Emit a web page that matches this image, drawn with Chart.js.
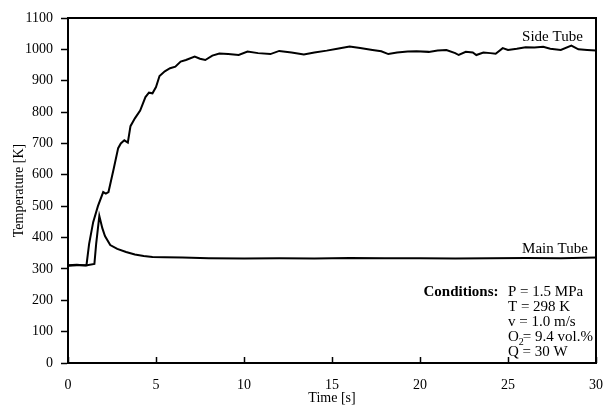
<!DOCTYPE html>
<html>
<head>
<meta charset="utf-8">
<script src="https://cdn.jsdelivr.net/npm/chart.js@4.4.0/dist/chart.umd.min.js"></script>
<style>
  html, body { margin: 0; padding: 0; background: #fff; }
  #wrap { width: 603px; height: 409px; }
</style>
</head>
<body>
<div id="wrap"><canvas id="tempChart" width="603" height="409"></canvas></div>
<script>
// data
const sideTime = [0, 0.5, 1.05, 1.2, 1.43, 1.7, 2.0, 2.15, 2.3, 2.6, 2.85, 3.0, 3.2, 3.4, 3.55, 3.8, 4.1, 4.4, 4.6, 4.8, 5.0, 5.2, 5.5, 5.8, 6.1, 6.4, 6.7, 7.2, 7.5, 7.8, 8.2, 8.6, 9.1, 9.7, 10.2, 10.8, 11.5, 12, 12.7, 13.4, 14, 14.7, 15.3, 16, 16.6, 17.3, 17.8, 18.2, 18.7, 19.3, 19.8, 20.5, 21, 21.5, 22, 22.2, 22.6, 23, 23.2, 23.6, 24, 24.3, 24.7, 25, 25.5, 26, 26.5, 27, 27.4, 28, 28.6, 29, 29.5, 30];
const sideTemp = [310, 312, 312, 380, 449, 500, 545, 540, 545, 620, 685, 700, 710, 703, 755, 780, 805, 848, 862, 860, 880, 915, 930, 940, 945, 961, 966, 977, 970, 966, 980, 987, 985, 982, 993, 988, 985, 995, 990, 984, 990, 996, 1002, 1009, 1004, 998, 994, 985, 990, 993, 994, 992, 996, 998, 988, 982, 992, 990, 982, 990, 988, 986, 1004, 998, 1002, 1007, 1006, 1008, 1002, 998, 1012, 1000, 998, 996];

const mainTime = [0, 0.5, 1.0, 1.5, 1.6, 1.78, 1.95, 2.1, 2.4, 2.8, 3.3, 3.8, 4.3, 4.8, 5.5, 6.5, 8, 10, 12, 14, 16, 18, 20, 22, 24, 26, 28, 30];
const mainTemp = [312, 313, 311, 316, 380, 469, 430, 405, 376, 364, 354, 346, 341, 338, 337, 336, 334, 333, 334, 333, 335, 334, 334, 333, 334, 335, 334, 336];

const xTicks = [0, 5, 10, 15, 20, 25, 30];
const conditionLines = ['P = 1.5 MPa', 'T = 298 K', 'v = 1.0 m/s', 'O2= 9.4 vol.%', 'Q = 30 W'];

const serif = '"Liberation Serif", "Times New Roman", serif';

function toPoints(xs, ys) {
    return xs.map((x, i) => ({ x: x, y: ys[i] }));
}

// frame, inward x ticks and text labels
const framePlugin = {
    id: 'frame',
    afterDraw(chart) {
        const c = chart.ctx;
        const a = chart.chartArea;
        const xs = chart.scales.x;
        const ys = chart.scales.y;
        c.save();
        c.strokeStyle = '#000';
        c.lineWidth = 2;
        c.strokeRect(a.left, a.top, a.right - a.left, a.bottom - a.top);

        // x ticks point up into the plot
        c.lineWidth = 1.5;
        xTicks.forEach(t => {
            const px = Math.round(xs.getPixelForValue(t)) + 0.5;
            c.beginPath();
            c.moveTo(px, a.bottom);
            c.lineTo(px, a.bottom - 6);
            c.stroke();
        });

        c.fillStyle = '#000';
        c.textBaseline = 'middle';
        c.font = '15px ' + serif;
        c.fillText('Side Tube', xs.getPixelForValue(25.8), ys.getPixelForValue(1039));
        c.fillText('Main Tube', xs.getPixelForValue(25.8), ys.getPixelForValue(362));

        c.font = 'bold 15px ' + serif;
        c.fillText('Conditions:', xs.getPixelForValue(20.2), ys.getPixelForValue(226));

        const lx = xs.getPixelForValue(25.0);
        conditionLines.forEach((line, i) => {
            const py = ys.getPixelForValue(226) + i * 15;
            c.font = '15px ' + serif;
            if (line.startsWith('O2')) {
                c.fillText('O', lx, py);
                const w = c.measureText('O').width;
                c.font = '10px ' + serif;
                c.fillText('2', lx + w, py + 5);
                c.font = '15px ' + serif;
                c.fillText(line.slice(2), lx + w + 4, py);
            } else {
                c.fillText(line, lx, py);
            }
        });
        c.restore();
    }
};

const ctx = document.getElementById('tempChart').getContext('2d');
const tempChart = new Chart(ctx, {
    type: 'line',
    data: {
        datasets: [
            {
                label: 'Side Tube',
                data: toPoints(sideTime, sideTemp),
                borderColor: '#000',
                borderWidth: 2,
                pointRadius: 0,
                tension: 0
            },
            {
                label: 'Main Tube',
                data: toPoints(mainTime, mainTemp),
                borderColor: '#000',
                borderWidth: 2,
                pointRadius: 0,
                tension: 0
            }
        ]
    },
    options: {
        responsive: false,
        animation: false,
        events: [],
        layout: { padding: { top: 18, right: 7, left: 0, bottom: 0 } },
        plugins: {
            legend: { display: false },
            tooltip: { enabled: false }
        },
        scales: {
            x: {
                type: 'linear',
                min: 0,
                max: 30,
                afterFit: s => { s.height = 46; s.paddingLeft = 0; s.paddingRight = 0; },
                afterBuildTicks: s => { s.ticks = xTicks.map(v => ({ value: v })); },
                grid: { drawOnChartArea: false, drawTicks: false },
                border: { color: '#000', width: 2 },
                ticks: { color: '#000', padding: 14, font: { family: serif, size: 14 }, callback: v => String(v) },
                title: {
                    display: true,
                    text: 'Time [s]',
                    color: '#000',
                    padding: { top: 0, bottom: 2 },
                    font: { family: serif, size: 14 }
                }
            },
            y: {
                min: 0,
                max: 1100,
                afterFit: s => { s.width = 68; s.paddingTop = 0; s.paddingBottom = 0; },
                ticks: { stepSize: 100, color: '#000', padding: 8, font: { family: serif, size: 14 }, callback: v => String(v) },
                grid: { drawOnChartArea: false, drawTicks: true, tickLength: 7, tickColor: '#000', tickWidth: 1.5 },
                border: { color: '#000', width: 2 },
                title: {
                    display: true,
                    text: 'Temperature [K]',
                    color: '#000',
                    padding: { top: 11, bottom: 0 },
                    font: { family: serif, size: 14 }
                }
            }
        }
    },
    plugins: [framePlugin]
});
</script>
</body>
</html>
